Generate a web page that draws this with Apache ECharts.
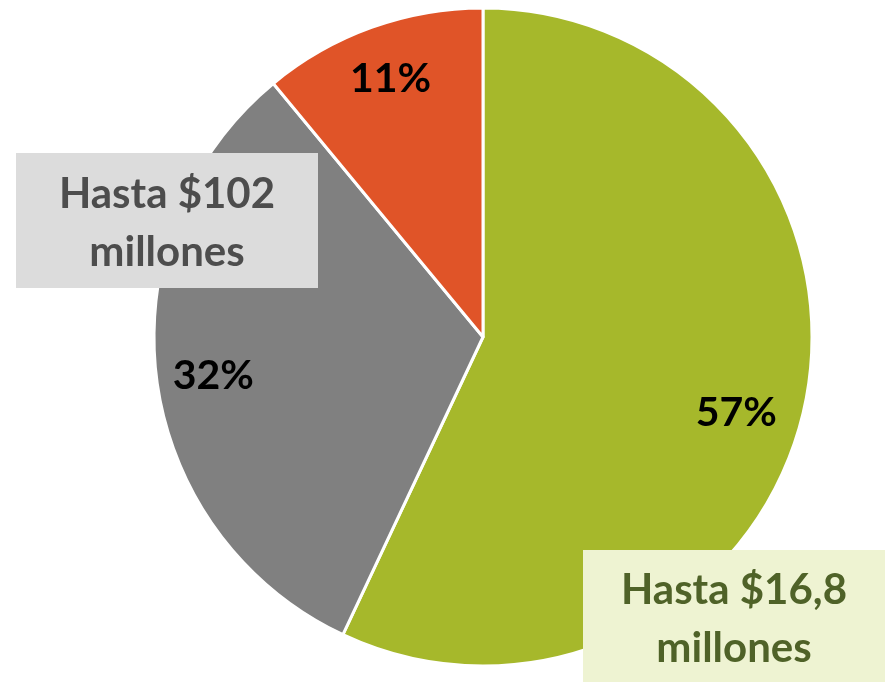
<!DOCTYPE html>
<html>
<head>
<meta charset="utf-8">
<script src="https://cdn.jsdelivr.net/npm/echarts@6/dist/echarts.min.js"></script>
<style>
  html, body { margin: 0; padding: 0; background: #fff; }
  #chart { width: 887px; height: 683px; }
</style>
</head>
<body>
<div id="chart"></div>
<script>
// Slice names and shares (percent), clockwise from 12 o'clock
const categories = ['Hasta $16,8 millones', 'Hasta $102 millones', 'Más de $102 millones'];
const shares = [57, 32, 11];
const sliceColors = ['#a6b82b', '#808080', '#e05428'];

// Callout boxes naming the two biggest groups
const calloutLines = [
  ['Hasta $16,8', 'millones'],
  ['Hasta $102', 'millones']
];

const FONT = 'Lato, "Open Sans", sans-serif';
const chart = echarts.init(document.getElementById('chart'), null, { renderer: 'canvas' });

const CX = 483, CY = 337, R = 329;

// small nudges for the percentage labels
const labelOffsets = [[-13, 16], [1, 5], [0, -2]];

const pieData = categories.map((name, i) => ({
  name,
  value: shares[i],
  itemStyle: { color: sliceColors[i] }
}));

function callout(lines, cx, cy, w, h, fill, textColor) {
  return {
    type: 'group',
    z: 100,
    children: [
      {
        type: 'rect',
        z: 100,
        shape: { x: cx - w / 2, y: cy - h / 2, width: w, height: h },
        style: { fill: fill }
      },
      {
        type: 'text',
        z: 101,
        x: cx,
        y: cy + 3,
        style: {
          text: lines.join('\n'),
          fill: textColor,
          font: 'bold 42px ' + FONT,
          lineHeight: 58,
          align: 'center',
          verticalAlign: 'middle'
        }
      }
    ]
  };
}

chart.setOption({
  backgroundColor: '#ffffff',
  animation: false,
  series: [
    {
      type: 'pie',
      center: [CX, CY],
      radius: [0, R],
      startAngle: 90,
      clockwise: true,
      silent: true,
      z: 1,
      label: { show: false },
      labelLine: { show: false },
      itemStyle: { borderColor: '#ffffff', borderWidth: 3 },
      data: pieData
    },
    {
      // transparent ring that places the percentage labels near the rim
      type: 'pie',
      center: [CX, CY],
      radius: [R * 0.64, R],
      startAngle: 90,
      clockwise: true,
      silent: true,
      z: 2,
      itemStyle: { color: 'transparent', borderWidth: 0 },
      label: {
        show: true,
        position: 'inside',
        formatter: '{c}%',
        color: '#000000',
        fontFamily: FONT,
        fontWeight: 'bold',
        fontSize: 41
      },
      labelLine: { show: false },
      data: pieData.map((d, i) => ({
        name: d.name,
        value: d.value,
        label: { offset: labelOffsets[i] }
      }))
    }
  ],
  graphic: {
    elements: [
      callout(calloutLines[1], 167, 220.5, 302, 135, '#dcdcdc', '#4d4d4d'),
      callout(calloutLines[0], 734, 616, 302, 132, '#eef3d2', '#4f6228')
    ]
  }
});
</script>
</body>
</html>
